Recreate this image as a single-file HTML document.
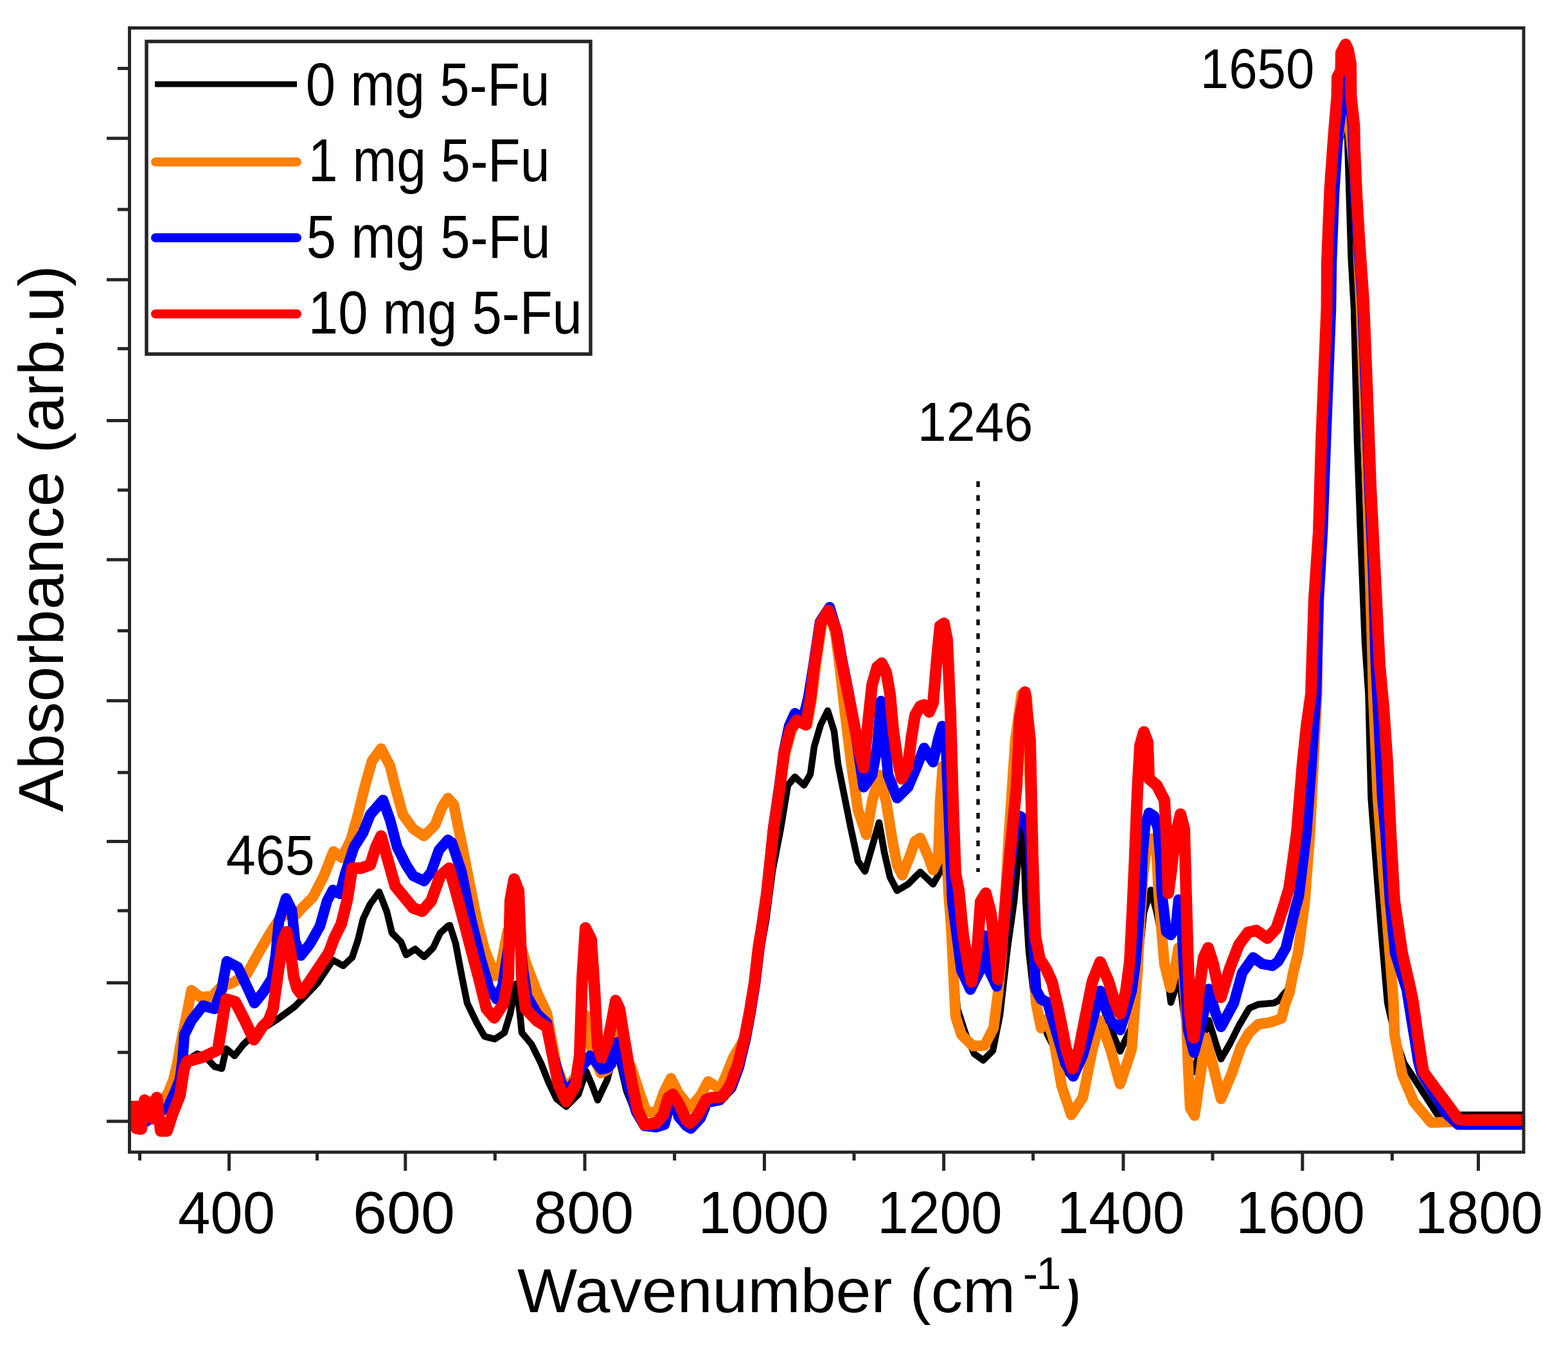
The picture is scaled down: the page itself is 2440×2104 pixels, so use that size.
<!DOCTYPE html>
<html><head><meta charset="utf-8"><title>FTIR spectra</title>
<style>html,body{margin:0;padding:0;background:#fff;}svg{display:block;}</style>
</head><body>
<svg width="2440" height="2104" viewBox="0 0 2440 2104">
<rect width="2440" height="2104" fill="#fff"/>
<g fill="none" stroke-linejoin="round" stroke-linecap="butt">
<polyline points="212,1735 230,1735 250,1730 266,1714 280,1697 291,1650 307,1640 320,1645 334,1660 345,1663 352,1632 365,1643 379,1625 390,1615 395,1612 410,1600 432,1586 458,1567 475,1550 494,1530 512,1503 518,1494 534,1503 548,1490 557,1463 565,1430 576,1407 590,1388 602,1419 610,1452 624,1466 632,1486 646,1477 660,1489 674,1475 685,1452 697,1441 700,1440 709,1468 718,1516 727,1561 742,1592 754,1613 770,1617 785,1607 794,1577 803,1531 809,1577 812,1607 827,1625 842,1655 854,1685 866,1710 881,1722 900,1703 912,1667 921,1688 930,1712 945,1680 956,1638 960,1635 966,1660 975,1698 990,1735 1003,1755 1021,1752 1040,1712 1047,1708 1060,1725 1074,1752 1090,1735 1105,1712 1115,1703 1125,1710 1140,1695 1150,1668 1163,1618 1171,1574 1178,1531 1184,1478 1192,1433 1202,1356 1215,1289 1226,1222 1237,1209 1251,1222 1261,1205 1267,1162 1277,1128 1288,1106 1298,1138 1304,1189 1314,1239 1324,1289 1335,1340 1346,1356 1357,1318 1368,1280 1376,1326 1385,1365 1396,1386 1413,1376 1432,1357 1452,1376 1460,1362 1467,1335 1473,1370 1480,1460 1490,1570 1503,1610 1516,1640 1530,1650 1545,1635 1556,1580 1568,1474 1578,1403 1585,1331 1590,1280 1593,1283 1594,1340 1596,1400 1601,1480 1610,1560 1630,1610 1645,1640 1660,1668 1670,1678 1685,1640 1700,1590 1712,1554 1728,1600 1743,1636 1760,1600 1770,1520 1780,1420 1791,1385 1800,1420 1812,1480 1822,1560 1835,1520 1845,1600 1851,1650 1859,1668 1870,1620 1881,1588 1892,1624 1900,1648 1914,1624 1928,1596 1944,1569 1958,1563 1982,1561 1990,1557 1996,1549 2004,1540 2010,1515 2018,1483 2028.5,1402 2036.5,1295 2042,1187 2047.5,1080 2049,931 2055,827 2060,688 2068,480 2069,407 2074,300 2079,240 2087,210 2094,200 2097,215 2099.5,300 2102.5,400 2107,480 2112,688 2117,827 2124,1000 2129.5,1080 2133.5,1241 2141.5,1348 2150,1456 2159,1560 2163,1578 2173,1620 2185,1655 2199,1676 2237,1735 2369,1735" stroke="#000" stroke-width="10.5"/>
<polyline points="218,1722 240,1712 255,1712 262,1700 270,1680 276,1655 280,1630 291,1577 298,1541 312,1552 330,1550 345,1535 361,1530 384,1516 403,1482 423,1448 435,1430 445,1422 459,1425 470,1413 487,1396 504,1363 519,1325 532,1335 546,1307 557,1268 568,1223 579,1184 593,1165 607,1192 616,1228 627,1268 643,1290 660,1301 677,1284 688,1256 697,1242 706,1252 718,1311 730,1371 742,1431 754,1477 770,1519 780,1500 790,1449 800,1440 810,1470 818,1498 836,1545 851,1577 866,1660 881,1697 896,1675 905,1620 911,1580 918,1622 926,1650 935,1670 945,1665 952,1630 958,1600 966,1640 982,1660 995,1700 1005,1728 1021,1734 1033,1700 1044,1678 1055,1700 1074,1724 1090,1705 1102,1683 1121,1695 1141,1646 1160,1614 1175,1530 1193,1391 1204,1289 1214,1222 1222,1172 1232,1135 1242,1121 1256,1128 1263,1088 1269,1038 1279,970 1291,955 1300,985 1307,1040 1315,1110 1325,1190 1335,1260 1348,1299 1357,1248 1368,1206 1379,1248 1388,1304 1396,1346 1404,1362 1416,1332 1424,1309 1432,1304 1444,1332 1452,1354 1460,1337 1463,1248 1467,1192 1472,1276 1476,1388 1480,1440 1487,1582 1496,1610 1514,1628 1532,1627 1546,1600 1553,1546 1560,1474 1570,1300 1580,1152 1590,1080 1598,1085 1604,1250 1607,1400 1612,1560 1620,1600 1630,1585 1640,1620 1652,1690 1667,1735 1685,1708 1700,1633 1712,1588 1728,1633 1743,1687 1761,1633 1770,1512 1775,1420 1779,1361 1785,1312 1792,1305 1800,1330 1803,1391 1806,1430 1812,1500 1821,1537 1828,1510 1834,1475 1840,1500 1845,1560 1849,1663 1852,1724 1859,1736 1867,1680 1876,1615 1888,1660 1900,1710 1917,1670 1931,1629 1944,1607 1958,1594 1977,1591 1994,1585 2000,1562 2006.5,1545 2012,1515 2020,1483 2030.5,1402 2038.5,1295 2044,1187 2049.5,1080 2051,931 2057,827 2062,688 2070,480 2071,407 2076,300 2081,220 2087,190 2094,178 2100,195 2106,250 2111,300 2114,400 2118,480 2123,619 2128,757 2132,896 2136,1035 2137,1080 2144,1241 2152,1348 2160.5,1456 2168.5,1560 2170,1610 2178,1652 2182,1672 2200,1715 2227,1747 2285,1745 2369,1743" stroke="#ff7f00" stroke-width="16.5"/>
<polyline points="214,1750 228,1745 262,1722 272,1700 280,1680 284,1650 287,1610 298,1588 316,1565 334,1570 345,1540 353,1496 370,1505 387,1541 396,1561 409,1545 423,1523 429,1487 434,1434 445,1398 454,1416 459,1464 468,1487 480,1472 484,1466 498,1441 509,1402 518,1385 529,1391 537,1360 551,1318 565,1296 576,1268 596,1245 607,1276 618,1318 632,1346 643,1363 660,1371 671,1357 683,1323 697,1307 703,1311 718,1356 733,1431 748,1492 761,1537 773,1555 782,1534 792,1470 800,1400 810,1470 814,1510 820,1550 836,1578 851,1592 860,1640 872,1682 881,1700 897,1680 905,1660 912,1652 918,1643 930,1656 936,1664 945,1662 951,1656 956,1630 961,1622 966,1640 975,1680 990,1730 1003,1752 1021,1754 1034,1750 1043,1715 1050,1712 1056,1738 1068,1752 1075,1756 1090,1740 1100,1716 1120,1712 1138,1692 1150,1660 1160,1617 1168,1574 1175,1530 1181,1478 1188,1434 1193,1395 1203,1290 1213,1222 1220,1168 1228,1130 1237,1110 1250,1118 1258,1085 1266,1035 1276,968 1291,945 1303,985 1310,1025 1320,1075 1330,1130 1338,1185 1344,1225 1357,1206 1365,1164 1371,1091 1382,1206 1396,1242 1413,1225 1427,1192 1438,1164 1452,1186 1460,1150 1466,1130 1472,1160 1477,1280 1482,1403 1496,1510 1510,1540 1525,1510 1532,1456 1539,1510 1551,1535 1560,1470 1568,1390 1575,1320 1580,1285 1587,1270 1594,1275 1602,1300 1605,1350 1607,1420 1609,1480 1612,1540 1620,1555 1630,1560 1645,1610 1658,1655 1670,1675 1685,1642 1700,1588 1712,1542 1728,1588 1743,1603 1761,1542 1767,1497 1773,1421 1776,1380 1778,1330 1782,1285 1788,1265 1796,1270 1802,1290 1806,1340 1808,1390 1815,1450 1822,1455 1830,1440 1834,1400 1838,1420 1842,1497 1849,1603 1858,1638 1868,1600 1881,1539 1891,1575 1900,1598 1920,1561 1933,1514 1950,1490 1964,1500 1980,1503 1989,1496 2001,1475 2008,1446 2015,1416 2021,1395 2033,1295 2041,1187 2048,1080 2052,931 2058,827 2063,688 2071,480 2072,407 2076,300 2082,210 2090,150 2092,126 2095,95 2099,88 2100.5,110 2100.5,150 2105,195 2106,230 2109,300 2113,368 2120,466 2126,619 2131,757 2137,896 2141,1035 2146,1134 2151,1241 2156,1295 2163,1402 2171,1483 2189,1540 2196,1584 2202,1620 2207,1652 2212,1670 2251,1733 2269,1750 2290,1750 2369,1750" stroke="#0000ff" stroke-width="16.5"/>
<polyline points="211,1713 212,1756 220,1757 225,1712 232,1718 238,1741 244,1708 250,1760 260,1760 268,1735 280,1705 285,1672 287,1662 291,1652 316,1645 339,1634 348,1577 352,1555 366,1559 380,1586 395,1618 409,1597 418,1588 425,1570 433,1512 440,1465 446,1450 452,1480 457,1520 462,1538 468,1546 480,1530 494,1509 512,1482 520,1460 531,1438 540,1402 548,1351 562,1351 576,1346 585,1318 593,1301 604,1340 615,1379 629,1396 643,1413 657,1418 671,1402 685,1363 699,1351 709,1386 721,1431 733,1477 745,1522 757,1570 769,1584 784,1561 791,1522 794,1401 800,1368 807,1386 810,1462 812,1522 818,1570 836,1589 851,1598 860,1643 869,1688 881,1714 896,1688 902,1643 906,1522 911,1444 920,1462 925,1537 930,1628 936,1646 946,1620 952,1590 958,1557 964,1570 971,1614 982,1678 992,1727 1003,1750 1021,1748 1032,1735 1040,1708 1047,1703 1057,1719 1068,1743 1074,1748 1086,1735 1099,1711 1108,1708 1118,1708 1125,1706 1136,1689 1148,1657 1159,1614 1167,1572 1174,1529 1180,1476 1187,1433 1193,1391 1204,1289 1214,1222 1220,1172 1230,1135 1240,1121 1254,1128 1261,1088 1267,1038 1277,970 1289,950 1301,980 1308,1021 1318,1071 1328,1121 1338,1172 1344,1195 1351,1122 1357,1066 1365,1038 1372,1032 1379,1046 1385,1080 1390,1136 1396,1178 1403,1212 1413,1192 1418,1150 1424,1113 1432,1099 1438,1097 1446,1108 1452,1094 1458,1024 1463,974 1469,970 1474,996 1479,1108 1483,1248 1487,1360 1492,1385 1499,1456 1507,1503 1512,1528 1521,1474 1526,1403 1534,1390 1542,1421 1548,1474 1553,1524 1560,1456 1568,1367 1575,1295 1582,1223 1587,1116 1595,1077 1603,1152 1607,1331 1611,1456 1618,1492 1628,1508 1637,1528 1646,1566 1659,1632 1669,1663 1679,1633 1691,1572 1700,1527 1712,1497 1725,1527 1734,1557 1743,1578 1752,1542 1758,1497 1762,1420 1766,1330 1770,1230 1774,1160 1780,1139 1786,1155 1788,1212 1800,1222 1812,1245 1815,1300 1817,1360 1818,1390 1822,1360 1829,1300 1837,1267 1843,1290 1846,1400 1849,1500 1852,1580 1857,1615 1858,1615 1866,1540 1873,1490 1880,1475 1888,1500 1895,1533 1900,1552 1914,1506 1928,1470 1942,1451 1955,1448 1972,1460 1986,1445 1998,1409 2006,1382 2012,1340 2018,1295 2027,1187 2033,1130 2040,1080 2045,931 2052,827 2056,688 2064.5,480 2065,407 2069.5,294 2075.5,210 2080.5,150 2081,120 2086.5,110 2087,82 2094,69 2098,78 2102,100 2102.4,150 2107.4,195 2108,230 2111,300 2115,368 2122,470 2128,619 2133,757 2140,896 2147,1035 2153,1100 2159,1187 2164,1295 2170,1402 2182,1483 2194,1535 2199,1560 2204,1596 2212,1650 2215,1668 2234,1694 2255,1722 2269,1741.5 2280,1743 2369,1743" stroke="#ff0000" stroke-width="18"/>
</g>
<line x1="1522" y1="749" x2="1522" y2="1357" stroke="#111" stroke-width="5.5" stroke-dasharray="9 12.5"/>
<g stroke="#262626" stroke-width="5" fill="none">
<rect x="201.5" y="43.5" width="2169.5" height="1749.5"/>
<line x1="356.5" y1="1793" x2="356.5" y2="1822"/>
<line x1="630.8" y1="1793" x2="630.8" y2="1822"/>
<line x1="910" y1="1793" x2="910" y2="1822"/>
<line x1="1189.5" y1="1793" x2="1189.5" y2="1822"/>
<line x1="1468.6" y1="1793" x2="1468.6" y2="1822"/>
<line x1="1748" y1="1793" x2="1748" y2="1822"/>
<line x1="2026.8" y1="1793" x2="2026.8" y2="1822"/>
<line x1="2300.5" y1="1793" x2="2300.5" y2="1822"/>
<line x1="217.5" y1="1793" x2="217.5" y2="1806"/>
<line x1="493.5" y1="1793" x2="493.5" y2="1806"/>
<line x1="770.3" y1="1793" x2="770.3" y2="1806"/>
<line x1="1049.6" y1="1793" x2="1049.6" y2="1806"/>
<line x1="1329" y1="1793" x2="1329" y2="1806"/>
<line x1="1607.6" y1="1793" x2="1607.6" y2="1806"/>
<line x1="1887" y1="1793" x2="1887" y2="1806"/>
<line x1="2166.4" y1="1793" x2="2166.4" y2="1806"/>
<line x1="183" y1="106.5" x2="201.5" y2="106.5"/>
<line x1="166" y1="215.3" x2="201.5" y2="215.3"/>
<line x1="183" y1="326" x2="201.5" y2="326"/>
<line x1="166" y1="435.3" x2="201.5" y2="435.3"/>
<line x1="183" y1="542.6" x2="201.5" y2="542.6"/>
<line x1="166" y1="654.4" x2="201.5" y2="654.4"/>
<line x1="183" y1="762.7" x2="201.5" y2="762.7"/>
<line x1="166" y1="871" x2="201.5" y2="871"/>
<line x1="183" y1="981.6" x2="201.5" y2="981.6"/>
<line x1="166" y1="1090.4" x2="201.5" y2="1090.4"/>
<line x1="183" y1="1202.2" x2="201.5" y2="1202.2"/>
<line x1="166" y1="1309.5" x2="201.5" y2="1309.5"/>
<line x1="183" y1="1417.2" x2="201.5" y2="1417.2"/>
<line x1="166" y1="1529.5" x2="201.5" y2="1529.5"/>
<line x1="183" y1="1637.8" x2="201.5" y2="1637.8"/>
<line x1="166" y1="1745" x2="201.5" y2="1745"/>
</g>
<rect x="228" y="64.5" width="691" height="486.5" fill="none" stroke="#262626" stroke-width="5.5"/>
<line x1="241" y1="131" x2="462" y2="131" stroke="#000" stroke-width="9" stroke-linecap="butt"/>
<line x1="242" y1="252" x2="462" y2="252" stroke="#ff7f00" stroke-width="14" stroke-linecap="round"/>
<line x1="242" y1="370" x2="462" y2="370" stroke="#0000ff" stroke-width="14" stroke-linecap="round"/>
<line x1="242" y1="488.5" x2="462" y2="488.5" stroke="#ff0000" stroke-width="14" stroke-linecap="round"/>
<g font-family='"Liberation Sans", Arial, Helvetica, sans-serif' fill="#000">
<text x="475.75" y="163.9" font-size="94.5" textLength="379.9" lengthAdjust="spacingAndGlyphs">0 mg 5-Fu</text>
<text x="479.86" y="281.9" font-size="94.5" textLength="375.73" lengthAdjust="spacingAndGlyphs">1 mg 5-Fu</text>
<text x="476.85" y="400.5" font-size="94.5" textLength="379.8" lengthAdjust="spacingAndGlyphs">5 mg 5-Fu</text>
<text x="479.79" y="518.5" font-size="94.5" textLength="426.11" lengthAdjust="spacingAndGlyphs">10 mg 5-Fu</text>
<text x="276.97" y="1918.8" font-size="93.29" textLength="151.03" lengthAdjust="spacingAndGlyphs">400</text>
<text x="549.14" y="1918.8" font-size="93.29" textLength="158.75" lengthAdjust="spacingAndGlyphs">600</text>
<text x="830.32" y="1918.8" font-size="93.29" textLength="156.0" lengthAdjust="spacingAndGlyphs">800</text>
<text x="1086.38" y="1918.8" font-size="93.29" textLength="203.63" lengthAdjust="spacingAndGlyphs">1000</text>
<text x="1365.3" y="1918.8" font-size="93.29" textLength="194.23" lengthAdjust="spacingAndGlyphs">1200</text>
<text x="1644.65" y="1919" font-size="92.58" textLength="198.77" lengthAdjust="spacingAndGlyphs">1400</text>
<text x="1923.28" y="1919" font-size="92.58" textLength="200.68" lengthAdjust="spacingAndGlyphs">1600</text>
<text x="2201.84" y="1919" font-size="92.58" textLength="198.88" lengthAdjust="spacingAndGlyphs">1800</text>
<text x="351.86" y="1361.2" font-size="86.3" textLength="137.76" lengthAdjust="spacingAndGlyphs">465</text>
<text x="1427.81" y="685.6" font-size="86.13" textLength="179.48" lengthAdjust="spacingAndGlyphs">1246</text>
<text x="1867.87" y="137.2" font-size="87.59" textLength="177.43" lengthAdjust="spacingAndGlyphs">1650</text>
<text x="804.99" y="2042" font-size="96.9" textLength="775.31" lengthAdjust="spacingAndGlyphs">Wavenumber (cm</text>
<text x="1591.8" y="2005.8" font-size="70">-</text>
<text x="1612.4" y="2005.8" font-size="70">1</text>
<clipPath id="pc"><rect x="1640" y="1990" width="60" height="90"/></clipPath>
<text x="1651" y="2044" font-size="97" clip-path="url(#pc)">)</text>
<text transform="translate(97.5,1263.5) rotate(-90)" x="0" y="0" font-size="99" textLength="850.5" lengthAdjust="spacingAndGlyphs">Absorbance (arb.u)</text>
</g>
</svg>
</body></html>
